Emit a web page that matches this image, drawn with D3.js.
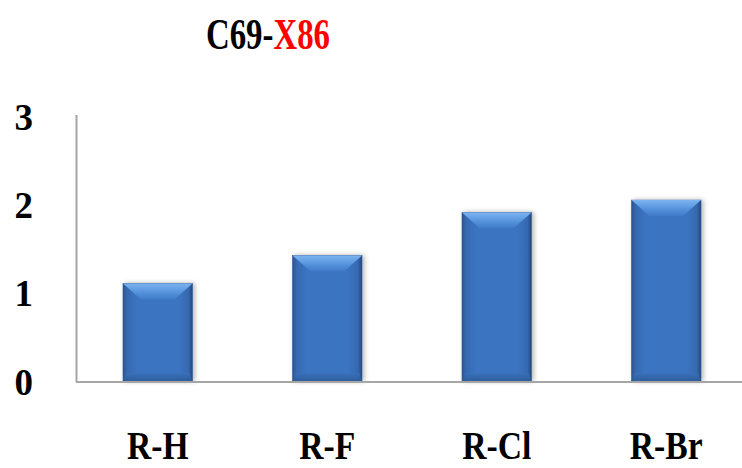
<!DOCTYPE html>
<html><head><meta charset="utf-8">
<script src="https://cdn.jsdelivr.net/npm/d3@7"></script>
<style>body{margin:0;background:#fff}svg{display:block}</style>
</head><body>
<script>
const categories = ["R-H", "R-F", "R-Cl", "R-Br"];
const values = [1.10, 1.415, 1.90, 2.04];
const yTicks = [0, 1, 2, 3];
const titleParts = [{t:"C69-", c:"#000"}, {t:"X86", c:"#ff0000"}];

const W = 742, H = 468;
const svg = d3.select("body").append("svg").attr("width", W).attr("height", H);
const defs = svg.append("defs");

const x = d3.scaleBand().domain(categories).range([73, 751]).paddingInner(0.59).paddingOuter(0.295);
const y = d3.scaleLinear().domain([0, 3]).range([381, 115]);

// gradients
const gBody = defs.append("linearGradient").attr("id","gBody").attr("x1","0").attr("x2","1").attr("y1","0").attr("y2","0");
[[0,"#2a5590"],[0.06,"#3669b0"],[0.2,"#3b74c2"],[0.8,"#3b74c2"],[0.94,"#3669b0"],[1,"#23497e"]].forEach(([o,c])=>gBody.append("stop").attr("offset",o).attr("stop-color",c));
const gTop = defs.append("linearGradient").attr("id","gTop").attr("x1","0").attr("x2","0").attr("y1","0").attr("y2","1");
[[0,"#7db4f0"],[0.5,"#5896de"],[1,"#3f7ac8"]].forEach(([o,c])=>gTop.append("stop").attr("offset",o).attr("stop-color",c));
const gBot = defs.append("linearGradient").attr("id","gBot").attr("x1","0").attr("x2","0").attr("y1","0").attr("y2","1");
[[0,"#3a70b8"],[1,"#2b5a98"]].forEach(([o,c])=>gBot.append("stop").attr("offset",o).attr("stop-color",c));
const sh = defs.append("filter").attr("id","sh").attr("x","-20%").attr("y","-10%").attr("width","140%").attr("height","120%");
sh.append("feGaussianBlur").attr("in","SourceAlpha").attr("stdDeviation",2.5).attr("result","b");
sh.append("feOffset").attr("in","b").attr("dx",2).attr("dy",0).attr("result","o");
sh.append("feComponentTransfer").attr("in","o").attr("result","o2").append("feFuncA").attr("type","linear").attr("slope",0.3);
const mg = sh.append("feMerge"); mg.append("feMergeNode").attr("in","o2"); mg.append("feMergeNode").attr("in","SourceGraphic");

// title
const title = svg.append("text").attr("x", 268).attr("y", 49).attr("text-anchor","middle")
  .attr("font-family","Liberation Serif, Times New Roman, serif").attr("font-weight","bold").attr("font-size",45)
  .attr("transform","translate(268,0) scale(0.73,1) translate(-268,0)");
title.selectAll("tspan").data(titleParts).join("tspan").attr("fill",d=>d.c).text(d=>d.t);

// bars
const bw = x.bandwidth();
const bars = svg.append("g").selectAll("g").data(categories).join("g").attr("filter","url(#sh)");
bars.append("rect").attr("x", d=>x(d)).attr("width", bw)
  .attr("y", (d,i)=>y(values[i])).attr("height", (d,i)=>y(0)-y(values[i]))
  .attr("fill","url(#gBody)").attr("stroke","#2d5a96").attr("stroke-width",0.6);
const bev = 18, bevH = 16;
bars.append("path").attr("fill","url(#gTop)").attr("d",(d,i)=>{
  const x0=x(d), x1=x(d)+bw, t=y(values[i]);
  return `M${x0},${t}L${x1},${t}L${x1-bev},${t+bevH}L${x0+bev},${t+bevH}Z`;
});
bars.append("path").attr("fill","url(#gBot)").attr("opacity",0.8).attr("d",(d,i)=>{
  const x0=x(d), x1=x(d)+bw, b=y(0);
  return `M${x0+3},${b-8}L${x1-3},${b-8}L${x1},${b}L${x0},${b}Z`;
});

// axes lines
svg.append("line").attr("x1",76.5).attr("x2",76.5).attr("y1",y(3)).attr("y2",y(0)+1).attr("stroke","#a6a6a6").attr("stroke-width",2);
svg.append("line").attr("x1",76).attr("x2",W).attr("y1",y(0)+1).attr("y2",y(0)+1).attr("stroke","#a6a6a6").attr("stroke-width",2.2);

// y tick labels
svg.append("g").selectAll("text").data(yTicks).join("text")
  .attr("x", 33).attr("y", d=>y(d)+ (d===3?2:1) ).attr("dy","0.35em").attr("text-anchor","end")
  .attr("font-family","Liberation Serif, Times New Roman, serif").attr("font-weight","bold").attr("font-size",37)
  .text(d=>d);

// x labels
svg.append("g").selectAll("text").data(categories).join("text")
  .attr("x", d=>x(d)+bw/2).attr("y", 459).attr("text-anchor","middle")
  .attr("transform", d=>`translate(${x(d)+bw/2},0) scale(0.82,1) translate(${-(x(d)+bw/2)},0)`)
  .attr("font-family","Liberation Serif, Times New Roman, serif").attr("font-weight","bold").attr("font-size",41)
  .text(d=>d);
</script>
</body></html>
